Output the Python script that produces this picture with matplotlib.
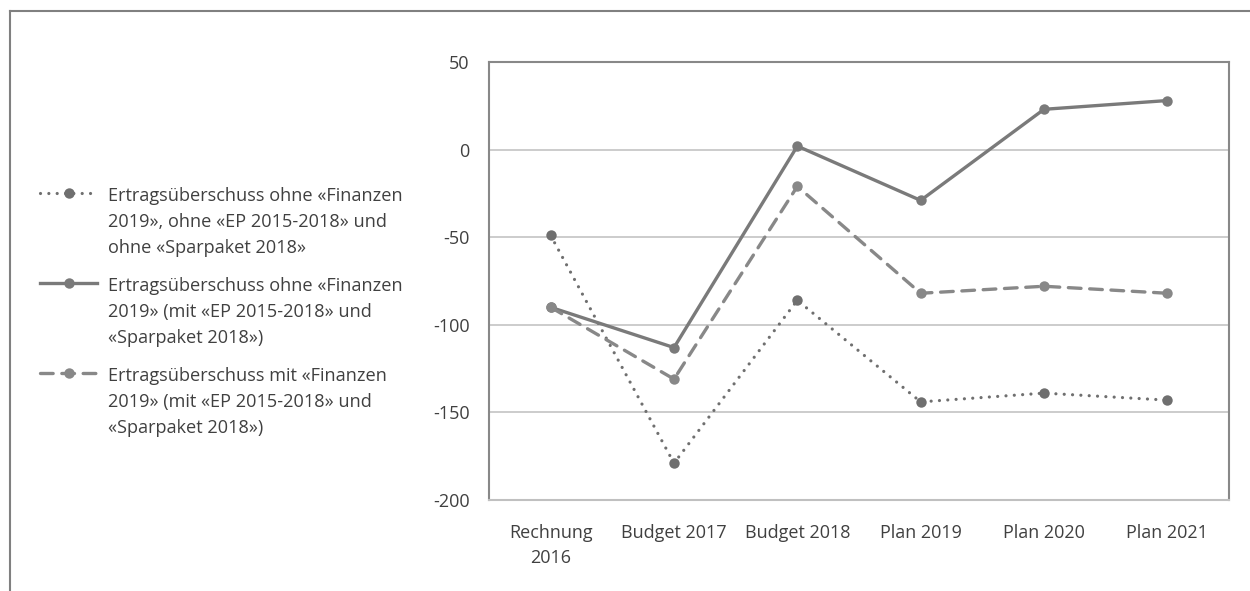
import matplotlib
matplotlib.use("Agg")
import matplotlib.pyplot as plt
from matplotlib.lines import Line2D

plt.rcParams['font.family'] = ['Open Sans', 'DejaVu Sans']

categories = ["Rechnung\n2016", "Budget 2017", "Budget 2018", "Plan 2019", "Plan 2020", "Plan 2021"]
ohne_alles = [-49, -179, -86, -144, -139, -143]
ohne_finanzen = [-90, -113, 2, -29, 23, 28]
mit_finanzen = [-90, -131, -21, -82, -78, -82]
labels = [
    "Ertragsüberschuss ohne «Finanzen\n2019», ohne «EP 2015-2018» und\nohne «Sparpaket 2018»",
    "Ertragsüberschuss ohne «Finanzen\n2019» (mit «EP 2015-2018» und\n«Sparpaket 2018»)",
    "Ertragsüberschuss mit «Finanzen\n2019» (mit «EP 2015-2018» und\n«Sparpaket 2018»)",
]
yticks = [50, 0, -50, -100, -150, -200]

W, H = 1250, 591
fig = plt.figure(figsize=(W / 100, H / 100), dpi=100)
ax = fig.add_axes([489 / W, 1 - 500 / H, (1229 - 489) / W, (500 - 62) / H])

x = list(range(len(categories)))
styles = [
    dict(data=ohne_alles, color="#6f6f6f", ls=(0, (0.01, 2.6)), lw=2.3),
    dict(data=ohne_finanzen, color="#7a7a7a", ls="-", lw=2.4),
    dict(data=mit_finanzen, color="#888888", ls=(0, (3.8, 2.6)), lw=2.4),
]
for s in styles:
    ax.plot(x, s["data"], color=s["color"], linestyle=s["ls"], lw=s["lw"],
            dash_capstyle="round", solid_capstyle="butt",
            marker="o", markersize=7.5, markeredgewidth=0, zorder=3)

ax.set_xlim(-0.5, len(categories) - 0.5)
ax.set_ylim(-200, 50)
ax.set_yticks(yticks)
ax.set_yticklabels([str(v) for v in yticks])
ax.set_xticks(x)
ax.set_xticklabels(categories, linespacing=1.5)
ax.tick_params(axis="both", length=0, labelsize=13, colors="#404040")
ax.tick_params(axis="y", pad=14)
ax.tick_params(axis="x", pad=17)
ax.grid(axis="y", color="#c8c8c8", lw=1.3)
ax.set_axisbelow(True)
for side in ["left", "top", "right"]:
    ax.spines[side].set_color("#888888")
    ax.spines[side].set_linewidth(1.5)
ax.spines["bottom"].set_color("#c0c0c0")
ax.spines["bottom"].set_linewidth(1.5)

# outer frame (top and left only)
fig.add_artist(Line2D([9.5 / W, 1.0], [1 - 10.5 / H, 1 - 10.5 / H], transform=fig.transFigure,
                      color="#808080", lw=1.5))
fig.add_artist(Line2D([9.5 / W, 9.5 / W], [0, 1 - 10.5 / H], transform=fig.transFigure,
                      color="#808080", lw=1.5))

# legend, drawn manually
leg_y = [193, 283, 373]
for s, lab, yy in zip(styles, labels, leg_y):
    yf = 1 - yy / H
    fig.add_artist(Line2D([40 / W, 97 / W], [yf, yf], transform=fig.transFigure,
                          color=s["color"], linestyle=s["ls"], lw=s["lw"], dash_capstyle="round"))
    fig.add_artist(Line2D([68.5 / W], [yf], transform=fig.transFigure, color=s["color"],
                          marker="o", markersize=7.5, markeredgewidth=0, linestyle="none"))
    fig.text(108 / W, 1 - (yy - 6) / H, lab, ha="left", va="top", fontsize=13.1,
             color="#404040", linespacing=1.57)

fig.savefig("out.png", dpi=100)
